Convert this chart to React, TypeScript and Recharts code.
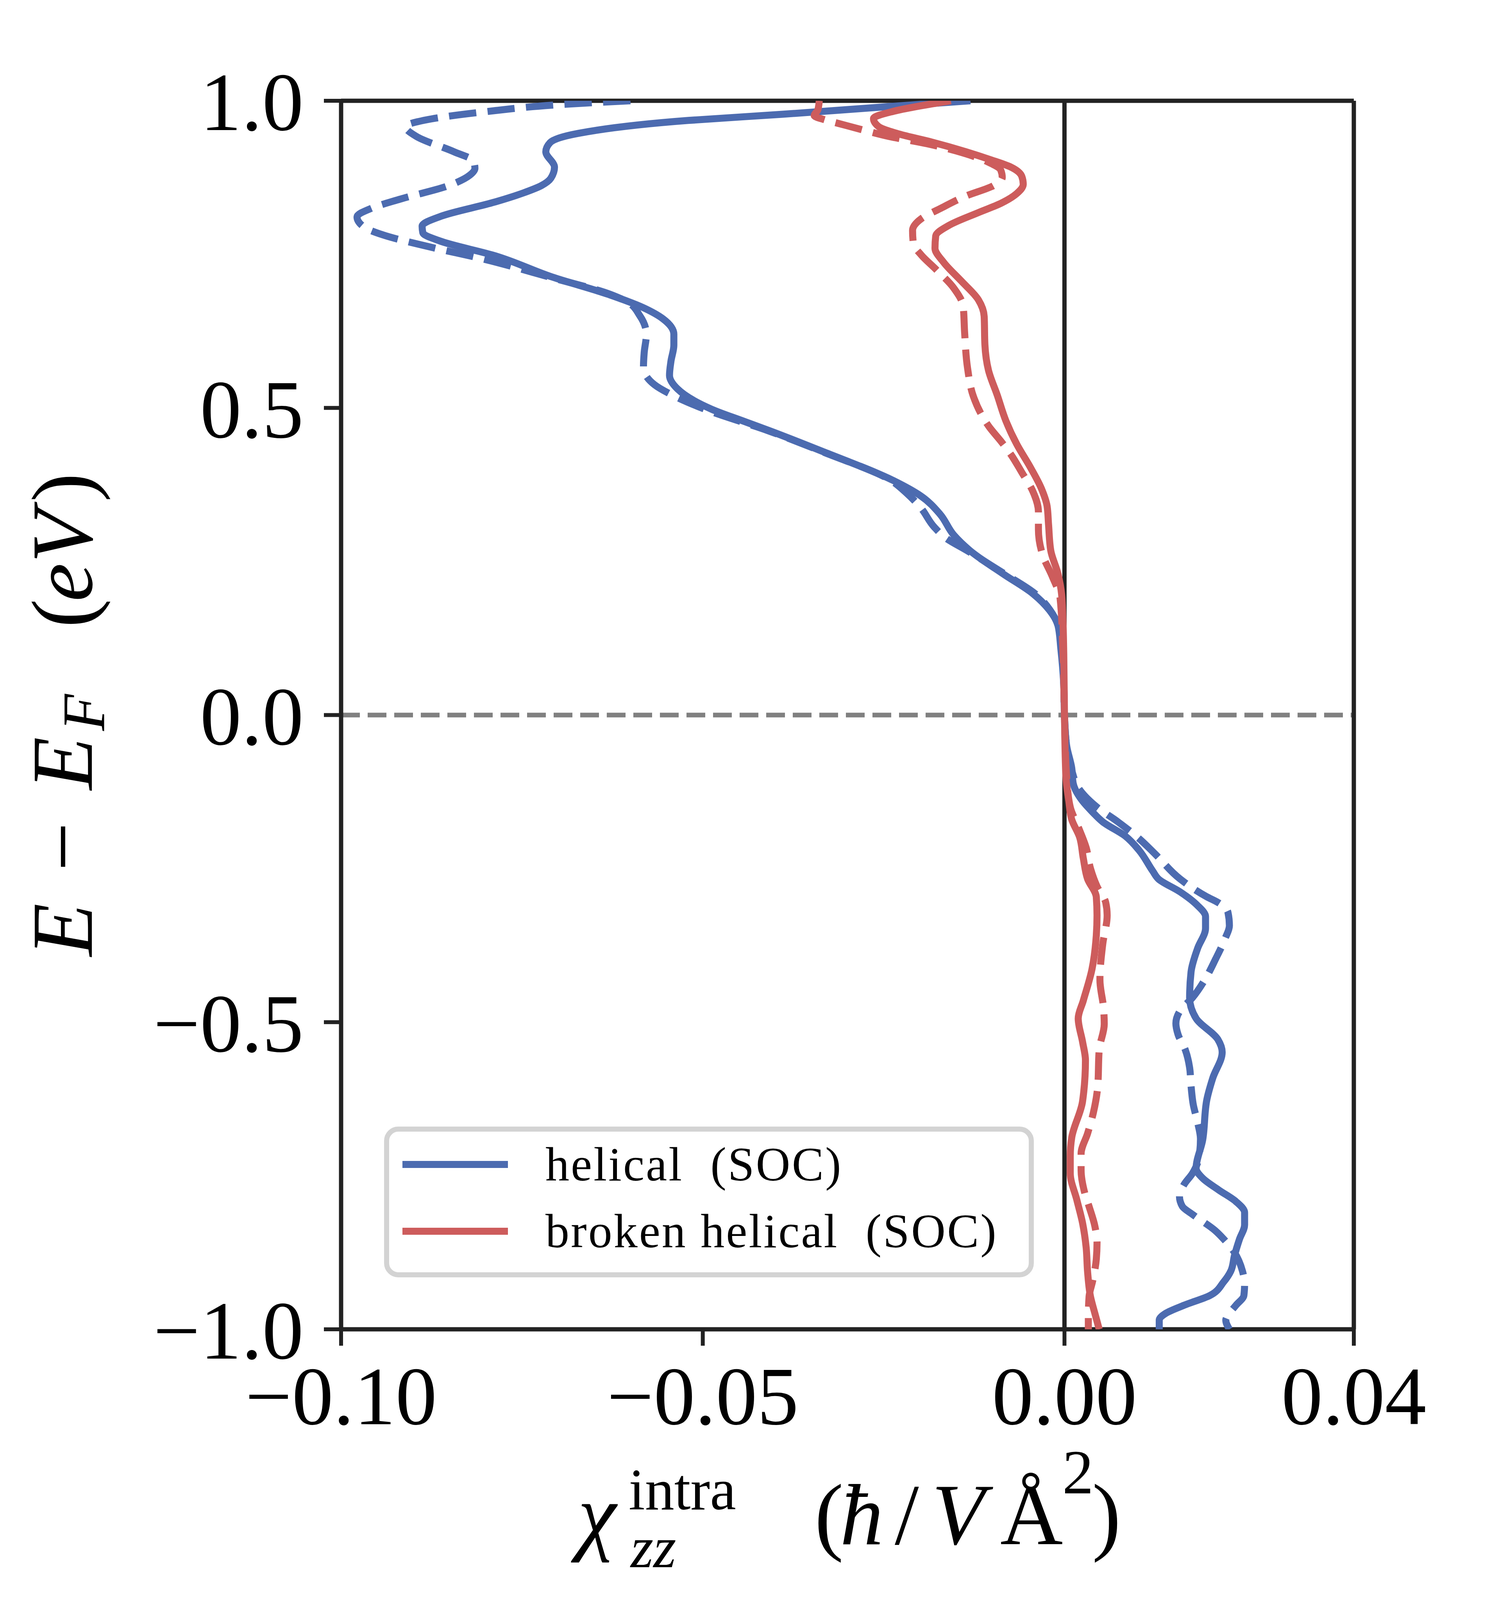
import { Legend, ReferenceLine, Scatter, ScatterChart, XAxis, YAxis } from "recharts";

const FONT = "'Liberation Serif', 'DejaVu Serif', serif";
const BLUE = "#4c6bb0";
const RED = "#cd5c5c";
const INK = "#222222";

// the photographed area is about 4096px tall, so the vertical layout is squeezed to fit it
const W = 3834;
const H = 4096;
const KY = H / 4334;
const sy = (v: number) => Math.round(v * KY);

const xTicks = [-0.1, -0.05, 0, 0.04];
const yTicks = [-1, -0.5, 0, 0.5, 1];

// [E - E_F (eV), chi_zz^intra] pairs from top to bottom
const helicalSoc: [number, number][] = [
  [1.0, -0.013], [0.99, -0.025], [0.978, -0.039], [0.968, -0.052], [0.947, -0.0672],
  [0.932, -0.0711], [0.917, -0.0717], [0.892, -0.0705], [0.874, -0.071], [0.862, -0.0723],
  [0.85, -0.0748], [0.835, -0.0788], [0.812, -0.0862], [0.796, -0.0888], [0.785, -0.0887],
  [0.772, -0.0864], [0.748, -0.0788], [0.713, -0.0708], [0.685, -0.0631], [0.663, -0.0582],
  [0.645, -0.0555], [0.62, -0.054], [0.602, -0.054], [0.576, -0.0544], [0.553, -0.0546],
  [0.531, -0.0535], [0.498, -0.0488], [0.479, -0.0445], [0.463, -0.0408], [0.428, -0.0332],
  [0.382, -0.0237], [0.357, -0.0199], [0.327, -0.0172], [0.293, -0.0153], [0.268, -0.0131],
  [0.23, -0.0085], [0.197, -0.0043], [0.171, -0.0021], [0.146, -0.0009], [0.108, -0.0005],
  [0.05, -0.0001], [0.0, 0.0], [-0.05, 0.0003], [-0.086, 0.001], [-0.111, 0.0012],
  [-0.14, 0.0025], [-0.157, 0.0038], [-0.174, 0.0053], [-0.197, 0.0084], [-0.22, 0.0103],
  [-0.254, 0.0122], [-0.267, 0.013], [-0.288, 0.016], [-0.309, 0.0183], [-0.328, 0.0195],
  [-0.347, 0.0195], [-0.38, 0.0184], [-0.418, 0.0175], [-0.46, 0.0173], [-0.494, 0.0182],
  [-0.528, 0.0212], [-0.549, 0.0218], [-0.591, 0.0205], [-0.625, 0.0197], [-0.692, 0.0191],
  [-0.738, 0.0182], [-0.754, 0.0191], [-0.773, 0.0213], [-0.792, 0.0237], [-0.81, 0.0249],
  [-0.83, 0.0249], [-0.853, 0.0242], [-0.88, 0.0235], [-0.905, 0.023], [-0.923, 0.022],
  [-0.945, 0.0201], [-0.961, 0.0165], [-0.974, 0.014], [-0.985, 0.0131], [-1.0, 0.0131],
];

const helicalNoSoc: [number, number][] = [
  [1.0, -0.06], [0.994, -0.0694], [0.982, -0.0802], [0.969, -0.0882], [0.958, -0.0911],
  [0.942, -0.0896], [0.917, -0.0844], [0.902, -0.0817], [0.89, -0.0815], [0.879, -0.0822],
  [0.862, -0.0851], [0.84, -0.0918], [0.825, -0.0958], [0.811, -0.0978], [0.795, -0.0969],
  [0.782, -0.0943], [0.762, -0.0877], [0.742, -0.0802], [0.713, -0.0712], [0.685, -0.0628],
  [0.673, -0.0605], [0.65, -0.0587], [0.62, -0.0578], [0.59, -0.0581], [0.566, -0.0582],
  [0.538, -0.0567], [0.518, -0.0537], [0.496, -0.0493], [0.463, -0.041], [0.428, -0.0333],
  [0.382, -0.024], [0.361, -0.0218], [0.338, -0.0199], [0.306, -0.018], [0.289, -0.0165],
  [0.268, -0.0135], [0.23, -0.0083], [0.197, -0.004], [0.171, -0.002], [0.146, -0.0009],
  [0.108, -0.0004], [0.05, -0.0001], [0.0, 0.0], [-0.05, 0.0003], [-0.09, 0.001],
  [-0.12, 0.002], [-0.15, 0.0045], [-0.174, 0.0074], [-0.201, 0.0103], [-0.227, 0.0126],
  [-0.267, 0.016], [-0.296, 0.0197], [-0.305, 0.0212], [-0.321, 0.0226], [-0.343, 0.0228],
  [-0.364, 0.0222], [-0.397, 0.0209], [-0.431, 0.0194], [-0.46, 0.0177], [-0.481, 0.016],
  [-0.502, 0.0154], [-0.52, 0.0157], [-0.545, 0.0167], [-0.574, 0.0173], [-0.604, 0.0175],
  [-0.634, 0.0178], [-0.663, 0.0184], [-0.69, 0.0188], [-0.72, 0.0186], [-0.746, 0.0177],
  [-0.765, 0.0165], [-0.784, 0.0159], [-0.8, 0.0163], [-0.813, 0.0177], [-0.839, 0.0208],
  [-0.853, 0.022], [-0.875, 0.0235], [-0.905, 0.0246], [-0.926, 0.0249], [-0.945, 0.0248],
  [-0.961, 0.0237], [-0.974, 0.0228], [-0.985, 0.0223], [-1.0, 0.0228],
];

const brokenSoc: [number, number][] = [
  [1.0, -0.0157], [0.983, -0.0236], [0.971, -0.0264], [0.958, -0.0257], [0.946, -0.0229],
  [0.933, -0.0184], [0.917, -0.0136], [0.904, -0.0102], [0.892, -0.0074], [0.877, -0.0059],
  [0.864, -0.0057], [0.849, -0.0066], [0.833, -0.0088], [0.818, -0.0119], [0.797, -0.016],
  [0.78, -0.0178], [0.76, -0.0179], [0.737, -0.0167], [0.707, -0.0143], [0.676, -0.0119],
  [0.649, -0.0111], [0.603, -0.011], [0.561, -0.0105], [0.521, -0.0093], [0.479, -0.0081],
  [0.441, -0.0066], [0.403, -0.0047], [0.369, -0.0032], [0.34, -0.0024], [0.31, -0.0022],
  [0.268, -0.0019], [0.23, -0.0009], [0.197, -0.0004], [0.15, -0.0002], [0.1, -0.0001],
  [0.0, 0.0], [-0.1, 0.0002], [-0.14, 0.0006], [-0.17, 0.001], [-0.199, 0.0021],
  [-0.233, 0.0026], [-0.267, 0.0032], [-0.296, 0.0044], [-0.326, 0.0045], [-0.359, 0.0044],
  [-0.414, 0.0038], [-0.465, 0.0026], [-0.494, 0.0019], [-0.532, 0.0025], [-0.562, 0.0029],
  [-0.629, 0.0025], [-0.688, 0.001], [-0.718, 0.0008], [-0.746, 0.0008], [-0.789, 0.0017],
  [-0.827, 0.0025], [-0.867, 0.003], [-0.907, 0.0032], [-0.947, 0.0036], [-0.974, 0.0042],
  [-1.0, 0.0048],
];

const brokenNoSoc: [number, number][] = [
  [1.0, -0.0339], [0.985, -0.0341], [0.976, -0.0346], [0.969, -0.0331], [0.963, -0.0312],
  [0.952, -0.0277], [0.942, -0.0243], [0.93, -0.019], [0.915, -0.014], [0.9, -0.0105],
  [0.887, -0.0088], [0.875, -0.0086], [0.862, -0.0098], [0.845, -0.0136], [0.825, -0.0171],
  [0.808, -0.0198], [0.789, -0.021], [0.768, -0.0209], [0.749, -0.0198], [0.726, -0.0178],
  [0.695, -0.0153], [0.665, -0.014], [0.622, -0.0138], [0.565, -0.0134], [0.519, -0.0126],
  [0.469, -0.0104], [0.446, -0.0088], [0.424, -0.0074], [0.395, -0.0059], [0.365, -0.0044],
  [0.331, -0.0036], [0.302, -0.0036], [0.26, -0.003], [0.226, -0.0017], [0.19, -0.0006],
  [0.1, -0.0002], [0.0, 0.0], [-0.1, 0.0003], [-0.15, 0.0008], [-0.182, 0.0019],
  [-0.216, 0.003], [-0.25, 0.0036], [-0.279, 0.0045], [-0.305, 0.0057], [-0.326, 0.0059],
  [-0.372, 0.0053], [-0.431, 0.0049], [-0.477, 0.0054], [-0.503, 0.0055], [-0.545, 0.0048],
  [-0.604, 0.0046], [-0.647, 0.004], [-0.681, 0.0032], [-0.714, 0.0023], [-0.741, 0.0023],
  [-0.778, 0.0028], [-0.8, 0.0034], [-0.832, 0.0042], [-0.859, 0.0045], [-0.886, 0.0044],
  [-0.921, 0.0039], [-0.947, 0.0034], [-0.98, 0.0033], [-1.0, 0.0033],
];

const series = [
  { name: "helical  (SOC)", rows: helicalSoc, color: BLUE, dashed: false },
  { name: "helical", rows: helicalNoSoc, color: BLUE, dashed: true },
  { name: "broken helical  (SOC)", rows: brokenSoc, color: RED, dashed: false },
  { name: "broken helical", rows: brokenNoSoc, color: RED, dashed: true },
];

const toPoints = (rows: [number, number][]) => rows.map(([e, x]) => ({ e, x }));

const fmtMinus = (s: string) => s.replace("-", "\u2212");
const fmtX = (v: number) => fmtMinus(v.toFixed(2));
const fmtY = (v: number) => fmtMinus(v.toFixed(1));

const PLOT_TOP = sy(273);
const PLOT_BOTTOM = sy(3601);

function XLabel() {
  const base = sy(4183);
  return (
    <text fontFamily={FONT} fontSize={222} fill="#000">
      <tspan x={1479} y={base} fontStyle="italic">χ</tspan>
      <tspan x={1609} y={sy(4088)} fontSize={150}>intra</tspan>
      <tspan x={1614} y={sy(4245)} fontSize={150} fontStyle="italic">zz</tspan>
      <tspan x={2085} y={base}>(</tspan>
      <tspan x={2150} y={base} fontStyle="italic">ħ</tspan>
      <tspan x={2290} y={base}>/</tspan>
      <tspan x={2385} y={base} fontStyle="italic">V</tspan>
      <tspan x={2560} y={base}>Å</tspan>
      <tspan x={2719} y={sy(4045)} fontSize={160}>2</tspan>
      <tspan x={2795} y={base}>)</tspan>
    </text>
  );
}

function YLabel() {
  return (
    <text transform="rotate(-90)" fontFamily={FONT} fontSize={222} fill="#000">
      <tspan x={-sy(2590)} y={235} fontStyle="italic">E</tspan>
      <tspan x={-sy(2360)} y={235}>−</tspan>
      <tspan x={-sy(2140)} y={235} fontStyle="italic">E</tspan>
      <tspan x={-sy(1980)} y={267} fontSize={154} fontStyle="italic">F</tspan>
      <tspan x={-sy(1700)} y={235}>(</tspan>
      <tspan x={-sy(1630)} y={235} fontStyle="italic">e</tspan>
      <tspan x={-sy(1525)} y={235} fontStyle="italic">V</tspan>
      <tspan x={-sy(1360)} y={235}>)</tspan>
    </text>
  );
}

const legendRank = (name: string) => series.findIndex((s) => s.name === name);

const LEG_TOP = sy(3052);
const LEG_H = sy(3460) - LEG_TOP;

function LegendBox(props: any) {
  const items = (props.payload ?? [])
    .filter((p: any) => p.type !== "none")
    .sort((a: any, b: any) => legendRank(a.value) - legendRank(b.value));
  return (
    <svg width={1663} height={LEG_H} style={{ display: "block" }}>
      <rect x={6.5} y={6.5} width={1650} height={LEG_H - 13} rx={30} fill="#fff" stroke="#d3d3d3" strokeWidth={13} />
      {items.map((item: any, i: number) => (
        <g key={item.value}>
          <line x1={47} x2={317} y1={97 + i * 171} y2={97 + i * 171} stroke={item.color} strokeWidth={18} />
          <text x={413} y={138 + i * 171} fontFamily={FONT} fontSize={122} letterSpacing={4} fill="#000" style={{ whiteSpace: "pre" }}>
            {item.value}
          </text>
        </g>
      ))}
    </svg>
  );
}

export default function App() {
  return (
    <div style={{ position: "absolute", left: 0, top: 0, width: W, height: 4334, background: "#fff" }}>
      <ScatterChart width={W} height={H} margin={{ top: PLOT_TOP, right: 369, bottom: H - PLOT_BOTTOM - 100, left: 773 }}>
        <XAxis
          dataKey="x"
          type="number"
          domain={[-0.1, 0.04]}
          ticks={xTicks}
          allowDataOverflow
          height={100}
          tickFormatter={fmtX}
          tickSize={42}
          tickMargin={50}
          tick={{ fontSize: 212, fill: "#000", fontFamily: FONT }}
          tickLine={{ stroke: INK, strokeWidth: 10 }}
          axisLine={{ stroke: INK, strokeWidth: 11 }}
          label={XLabel}
        />
        <YAxis
          dataKey="e"
          type="number"
          domain={[-1, 1]}
          ticks={yTicks}
          allowDataOverflow
          width={100}
          tickFormatter={fmtY}
          tickSize={44}
          tickMargin={52}
          tick={{ fontSize: 212, fill: "#000", fontFamily: FONT }}
          tickLine={{ stroke: INK, strokeWidth: 10 }}
          axisLine={{ stroke: INK, strokeWidth: 11 }}
          label={YLabel}
        />
        {series.map((s) => (
          <Scatter
            key={s.name}
            name={s.name}
            data={toPoints(s.rows)}
            fill={s.color}
            legendType={s.dashed ? "none" : "line"}
            line={{
              stroke: s.color,
              strokeWidth: 18,
              strokeDasharray: s.dashed ? "70 29" : undefined,
              strokeLinejoin: "round",
            }}
            lineType="joint"
            lineJointType="monotoneY"
            shape={() => <g />}
            isAnimationActive={false}
          />
        ))}
        <ReferenceLine y={0} stroke="#808080" strokeWidth={12} strokeDasharray="48 20" />
        <ReferenceLine x={0} stroke={INK} strokeWidth={11} />
        <ReferenceLine y={1} stroke={INK} strokeWidth={11} />
        <ReferenceLine x={0.04} stroke={INK} strokeWidth={11} />
        <Legend
          layout="horizontal"
          verticalAlign="middle"
          align="center"
          content={LegendBox}
          wrapperStyle={{ left: 983, top: LEG_TOP, width: 1663, height: LEG_H }}
        />
      </ScatterChart>
    </div>
  );
}
